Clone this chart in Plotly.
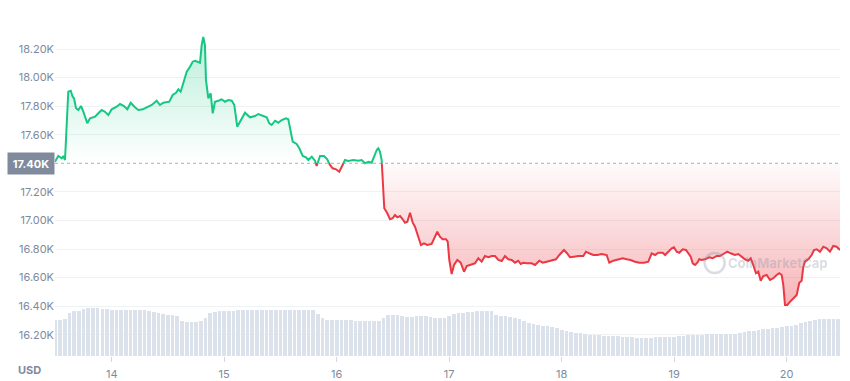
import plotly.graph_objects as go

# ---- price series (day of month, USD) ----
days = [13.496, 13.525, 13.556, 13.570, 13.585, 13.600, 13.614, 13.636, 13.653, 13.665,
        13.683, 13.703, 13.727, 13.748, 13.783, 13.807, 13.852, 13.881, 13.911, 13.940,
        13.970, 14.000, 14.044, 14.074, 14.109, 14.139, 14.169, 14.207, 14.236, 14.276,
        14.311, 14.356, 14.400, 14.429, 14.459, 14.512, 14.542, 14.572, 14.592, 14.613,
        14.636, 14.667, 14.696, 14.720, 14.740, 14.770, 14.785, 14.800, 14.814, 14.829,
        14.838, 14.859, 14.880, 14.898, 14.918, 14.948, 14.978, 15.007, 15.036, 15.067,
        15.090, 15.116, 15.147, 15.185, 15.229, 15.274, 15.303, 15.348, 15.378, 15.401,
        15.422, 15.452, 15.481, 15.511, 15.549, 15.570, 15.591, 15.609, 15.644, 15.668,
        15.698, 15.727, 15.748, 15.778, 15.807, 15.822, 15.852, 15.887, 15.916, 15.940,
        15.964, 15.994, 16.023, 16.053, 16.074, 16.103, 16.148, 16.192, 16.222, 16.252,
        16.281, 16.311, 16.332, 16.356, 16.370, 16.385, 16.400, 16.414, 16.423, 16.450,
        16.474, 16.498, 16.518, 16.539, 16.563, 16.587, 16.607, 16.628, 16.652, 16.676,
        16.696, 16.725, 16.749, 16.776, 16.805, 16.844, 16.874, 16.894, 16.918, 16.942,
        16.972, 16.987, 17.001, 17.022, 17.043, 17.072, 17.102, 17.132, 17.156, 17.191,
        17.229, 17.259, 17.289, 17.318, 17.348, 17.378, 17.407, 17.437, 17.467, 17.496,
        17.525, 17.556, 17.585, 17.614, 17.636, 17.659, 17.689, 17.733, 17.763, 17.801,
        17.831, 17.867, 17.911, 17.949, 17.979, 18.020, 18.044, 18.074, 18.109, 18.148,
        18.192, 18.216, 18.245, 18.281, 18.316, 18.356, 18.400, 18.423, 18.459, 18.503,
        18.542, 18.578, 18.613, 18.652, 18.690, 18.732, 18.770, 18.800, 18.830, 18.859,
        18.898, 18.919, 18.948, 18.978, 18.998, 19.022, 19.045, 19.076, 19.105, 19.125,
        19.147, 19.165, 19.185, 19.206, 19.223, 19.244, 19.274, 19.312, 19.342, 19.378,
        19.407, 19.437, 19.472, 19.502, 19.540, 19.570, 19.600, 19.629, 19.659, 19.680,
        19.703, 19.727, 19.748, 19.769, 19.792, 19.822, 19.852, 19.881, 19.911, 19.934,
        19.956, 19.970, 19.985, 20.006, 20.030, 20.059, 20.089, 20.112, 20.133, 20.148,
        20.163, 20.192, 20.222, 20.243, 20.267, 20.296, 20.326, 20.356, 20.385, 20.414,
        20.444, 20.474]

price = [17411, 17451, 17435, 17451, 17423, 17633, 17901, 17908, 17866, 17855,
         17785, 17773, 17801, 17761, 17680, 17715, 17726, 17750, 17773, 17761,
         17738, 17778, 17796, 17815, 17801, 17778, 17824, 17792, 17773, 17778,
         17792, 17808, 17838, 17808, 17824, 17831, 17878, 17894, 17918, 17901,
         17960, 18041, 18076, 18111, 18118, 18111, 18104, 18228, 18284, 18228,
         17983, 17855, 17890, 17750, 17831, 17838, 17848, 17831, 17843, 17838,
         17808, 17656, 17703, 17754, 17722, 17731, 17745, 17731, 17722, 17680,
         17668, 17698, 17684, 17703, 17715, 17708, 17633, 17551, 17535, 17505,
         17451, 17442, 17423, 17446, 17418, 17381, 17451, 17451, 17428, 17388,
         17365, 17358, 17341, 17388, 17423, 17416, 17423, 17418, 17423, 17400,
         17411, 17404, 17446, 17493, 17505, 17481, 17423, 17166, 17085, 17050,
         17008, 17015, 17038, 17022, 17031, 17008, 16984, 16991, 17054, 16984,
         16956, 16886, 16828, 16840, 16828, 16835, 16886, 16921, 16886, 16868,
         16868, 16851, 16723, 16625, 16688, 16723, 16704, 16641, 16681, 16688,
         16700, 16735, 16711, 16751, 16742, 16751, 16751, 16723, 16716, 16751,
         16728, 16723, 16704, 16718, 16695, 16704, 16700, 16700, 16688, 16718,
         16704, 16711, 16723, 16728, 16758, 16793, 16774, 16742, 16746, 16751,
         16751, 16781, 16770, 16758, 16758, 16765, 16758, 16704, 16718, 16728,
         16735, 16728, 16723, 16711, 16704, 16704, 16711, 16770, 16758, 16774,
         16774, 16758, 16781, 16805, 16812, 16781, 16774, 16798, 16793, 16770,
         16746, 16700, 16688, 16704, 16728, 16723, 16728, 16742, 16735, 16751,
         16751, 16765, 16781, 16770, 16758, 16765, 16746, 16728, 16718, 16735,
         16688, 16630, 16641, 16578, 16611, 16618, 16583, 16595, 16618, 16630,
         16618, 16548, 16408, 16408, 16431, 16455, 16478, 16564, 16578, 16676,
         16711, 16728, 16758, 16793, 16798, 16781, 16816, 16805, 16781, 16821,
         16816, 16793]

# ---- hourly volume (billion USD), starting 13th 12:00 ----
volume = [15.0, 15.0, 15.1, 17.8, 18.3, 18.7, 19.2, 19.6, 19.7, 19.6, 19.4, 19.2,
          19.1, 19.0, 19.0, 19.0, 19.0, 19.0, 19.0, 18.9, 18.6, 18.1, 17.6, 17.2,
          16.9, 16.8, 16.6, 14.2, 14.1, 14.1, 14.1, 14.3, 15.8, 17.7, 18.1, 18.3,
          18.3, 18.3, 18.4, 18.9, 19.0, 19.0, 19.0, 18.9, 18.9, 18.9, 18.8, 18.8,
          18.8, 18.8, 18.9, 19.0, 19.0, 19.0, 19.0, 18.9, 17.4, 15.5, 14.6, 14.7,
          14.8, 15.0, 14.9, 14.6, 14.4, 14.4, 14.4, 14.4, 14.4, 14.5, 15.6, 16.7,
          16.8, 16.8, 16.5, 16.0, 16.2, 16.4, 16.6, 16.5, 16.0, 15.8, 15.8, 15.8,
          16.6, 17.2, 17.5, 17.7, 17.9, 18.1, 18.3, 18.3, 18.3, 18.3, 17.0, 16.6,
          16.4, 16.1, 15.8, 15.2, 14.3, 13.5, 13.1, 12.8, 12.5, 12.2, 12.0, 11.4,
          10.8, 10.2, 9.9, 9.6, 9.3, 9.0, 8.8, 8.7, 8.5, 8.4, 8.3, 8.2,
          8.1, 8.0, 7.8, 7.7, 7.6, 7.5, 7.5, 7.6, 7.7, 7.8, 7.9, 8.0,
          8.0, 8.2, 8.4, 8.6, 8.7, 8.8, 8.8, 8.9, 8.9, 8.9, 9.0, 9.0,
          9.0, 9.2, 9.5, 9.8, 10.1, 10.4, 10.7, 11.0, 11.3, 11.5, 11.7, 11.9,
          12.2, 12.5, 12.9, 13.5, 14.0, 14.5, 14.9, 15.1, 15.3, 15.4, 15.4, 15.4]
vol_days = [13.5 + i / 24 for i in range(len(volume))]

baseline = 17400
tick_vals = [16200, 16400, 16600, 16800, 17000, 17200, 17600, 17800, 18000, 18200]
tick_text = ["16.20K", "16.40K", "16.60K", "16.80K", "17.00K", "17.20K",
             "17.60K", "17.80K", "18.00K", "18.20K"]
x_ticks = [14, 15, 16, 17, 18, 19, 20]

GREEN = "#16c784"
RED = "#ea3943"
AXIS_TXT = "#808a9d"

# insert baseline crossing points so the two colours meet exactly
ax, ay = [days[0]], [price[0]]
for i in range(1, len(days)):
    y0, y1 = price[i - 1], price[i]
    if (y0 - baseline) * (y1 - baseline) < 0:
        t = (baseline - y0) / (y1 - y0)
        ax.append(days[i - 1] + t * (days[i] - days[i - 1]))
        ay.append(baseline)
    ax.append(days[i])
    ay.append(price[i])

green_line = [y if y >= baseline else None for y in ay]
red_line = [y if y <= baseline else None for y in ay]
green_fill = [max(y, baseline) for y in ay]
red_fill = [min(y, baseline) for y in ay]
base_arr = [baseline] * len(ax)

fig = go.Figure()

fig.add_trace(go.Bar(x=vol_days, y=volume, yaxis="y2", marker=dict(color="#dce2ec", line=dict(width=0)),
                     width=1 / 24 * 0.78, hoverinfo="skip", showlegend=False))

fig.add_trace(go.Scatter(x=ax, y=base_arr, mode="lines", line=dict(width=0), showlegend=False, hoverinfo="skip"))
fig.add_trace(go.Scatter(x=ax, y=green_fill, mode="lines", line=dict(width=0), fill="tonexty",
                         fillgradient=dict(type="vertical",
                                           colorscale=[[0, "rgba(22,199,132,0.0)"], [1, "rgba(22,199,132,0.30)"]],
                                           start=baseline, stop=18290),
                         showlegend=False, hoverinfo="skip"))
fig.add_trace(go.Scatter(x=ax, y=base_arr, mode="lines", line=dict(width=0), showlegend=False, hoverinfo="skip"))
fig.add_trace(go.Scatter(x=ax, y=red_fill, mode="lines", line=dict(width=0), fill="tonexty",
                         fillgradient=dict(type="vertical",
                                           colorscale=[[0, "rgba(234,57,67,0.38)"], [1, "rgba(234,57,67,0.02)"]],
                                           start=16400, stop=baseline),
                         showlegend=False, hoverinfo="skip"))

fig.add_trace(go.Scatter(x=ax, y=green_line, mode="lines", line=dict(color=GREEN, width=2),
                         connectgaps=False, showlegend=False))
fig.add_trace(go.Scatter(x=ax, y=red_line, mode="lines", line=dict(color=RED, width=2),
                         connectgaps=False, showlegend=False))

# dotted reference line at the opening price
fig.add_shape(type="line", xref="paper", x0=0, x1=1, yref="y", y0=baseline, y1=baseline,
              line=dict(color="#a6b0c3", width=1, dash="dot"), layer="below")

# watermark
fig.add_annotation(x=19.46, y=16702, xref="x", yref="y", text="<b>CoinMarketCap</b>", showarrow=False,
                   xanchor="left", yanchor="middle",
                   font=dict(family="Inter", size=13, color="rgba(128,138,157,0.30)"))
fig.add_shape(type="circle", xref="x", yref="y", xsizemode="pixel", ysizemode="pixel",
              xanchor=19.36, yanchor=16702, x0=-10, x1=10, y0=-10, y1=10,
              line=dict(color="rgba(128,138,157,0.30)", width=2.5))

# highlighted current-baseline label
fig.add_annotation(xref="paper", x=0, y=baseline, yref="y", text="<b>17.40K</b>", showarrow=False,
                   xanchor="right", yanchor="middle", bgcolor="#808a9d", width=42, height=17,
                   borderpad=2, font=dict(family="Inter", size=11, color="white"))

fig.add_annotation(xref="paper", yref="paper", x=-0.032, y=-0.042, text="<b>USD</b>", showarrow=False,
                   xanchor="center", yanchor="middle", font=dict(family="Inter", size=11, color=AXIS_TXT))

fig.update_layout(
    width=850, height=381,
    margin=dict(l=55, r=10, t=30, b=25, autoexpand=False),
    paper_bgcolor="white", plot_bgcolor="white",
    font=dict(family="Inter", size=11, color=AXIS_TXT),
    showlegend=False,
    bargap=0,
    xaxis=dict(range=[13.496, 20.474], tickvals=x_ticks, ticktext=[str(v) for v in x_ticks],
               showgrid=False, zeroline=False, showline=False, ticks="outside", ticklen=5,
               ticklabelstandoff=3, automargin=False,
               tickcolor="#cfd6e4", tickfont=dict(family="Inter", size=11, color=AXIS_TXT)),
    yaxis=dict(range=[16051, 18333], tickvals=tick_vals, ticktext=tick_text, automargin=False,
               showgrid=True, gridcolor="#eff2f5", gridwidth=1, zeroline=False, showline=False,
               ticks="", tickfont=dict(family="Inter", size=11, color=AXIS_TXT)),
    yaxis2=dict(range=[0, 134], overlaying="y", visible=False, showgrid=False, automargin=False),
)

fig.write_html("out.html", config={"displayModeBar": False},
               post_script="document.body.style.margin='0';document.body.style.overflow='hidden';")
